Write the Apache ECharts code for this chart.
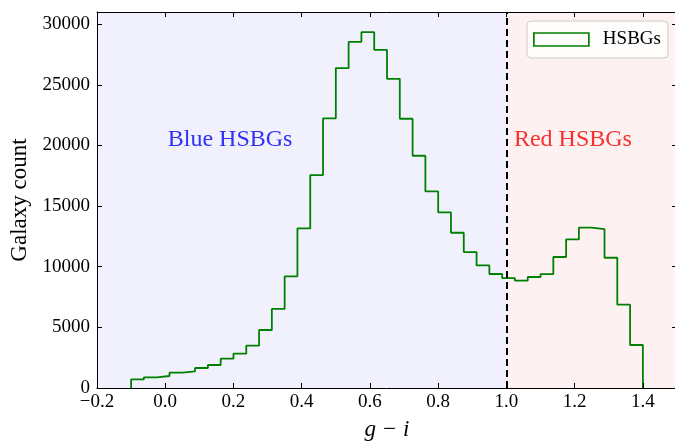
<!DOCTYPE html>
<html>
<head>
<meta charset="utf-8">
<script src="https://cdn.jsdelivr.net/npm/echarts@6/dist/echarts.min.js"></script>
<style>
html,body{margin:0;padding:0;background:#fff;}
#c{width:675px;height:441px;}
</style>
</head>
<body>
<div id="c"></div>
<script>
// Histogram of g-i colour (40 bins from -0.1 to 1.4)
const binStart = -0.1;
const binWidth = 0.0375;
const counts = [717, 882, 989, 1261, 1376, 1648, 1896, 2415, 2827, 3486,
                4780, 6520, 9206, 13160, 17555, 22225, 26375, 28540, 29340, 27880,
                25490, 22200, 19150, 16210, 14480, 12800, 11210, 10110, 9400, 9060,
                8845, 9150, 9395, 10800, 12250, 13215, 13100, 10740, 6870, 3545];
const seriesName = 'HSBGs';
const splitValue = 1.0;
const xRange = [-0.2, 1.5];
const yRange = [0, 31000];
const regionLabels = ['Blue HSBGs', 'Red HSBGs'];
const xTitle = 'g − i';
const yTitle = 'Galaxy count';

// build step outline
const stepData = [];
const edges = [];
for (let k = 0; k <= counts.length; k++) edges.push(+(binStart + k * binWidth).toFixed(6));
stepData.push([edges[0], 0]);
for (let k = 0; k < counts.length; k++) stepData.push([edges[k], counts[k]]);
stepData.push([edges[counts.length], counts[counts.length - 1]]);
stepData.push([edges[counts.length], 0]);

const serif = '"Liberation Serif", "DejaVu Serif", serif';
const fmtX = v => {
  const s = (Math.round(v * 10) / 10).toFixed(1);
  return s.replace('-', '\u2212');
};
const fmtY = v => String(Math.round(v));

const chart = echarts.init(document.getElementById('c'), null, {renderer: 'canvas'});
const common = {
  z: 10,
  axisLine: {show: true, onZero: false, lineStyle: {color: '#000', width: 1}},
  axisTick: {show: true, inside: true, length: 5, lineStyle: {color: '#000', width: 1}},
  splitLine: {show: false}
};
chart.setOption({
  animation: false,
  backgroundColor: '#fff',
  grid: {left: 97, top: 12, width: 580, height: 376, containLabel: false, outerBoundsMode: 'none'},
  xAxis: [
    Object.assign({
      type: 'value', min: xRange[0], max: xRange[1], interval: 0.2,
      name: xTitle, nameLocation: 'middle', nameGap: 30,
      nameTextStyle: {fontFamily: serif, fontSize: 23, fontStyle: 'italic', color: '#000'},
      axisLabel: {show: true, showMaxLabel: false, margin: 5, formatter: fmtX,
                  fontFamily: serif, fontSize: 19, color: '#000'}
    }, common),
    Object.assign({
      type: 'value', position: 'top', min: xRange[0], max: xRange[1], interval: 0.2,
      axisLabel: {show: false}
    }, common)
  ],
  yAxis: [
    Object.assign({
      type: 'value', min: yRange[0], max: yRange[1], interval: 5000,
      name: yTitle, nameLocation: 'middle', nameGap: 62, nameRotate: 90,
      nameTextStyle: {fontFamily: serif, fontSize: 23, color: '#000'},
      axisLabel: {show: true, showMaxLabel: false, margin: 7, formatter: fmtY,
                  fontFamily: serif, fontSize: 19, color: '#000'}
    }, common),
    Object.assign({
      type: 'value', position: 'right', min: yRange[0], max: yRange[1], interval: 5000,
      axisLabel: {show: false}
    }, common)
  ],
  legend: {
    show: true,
    left: 527, top: 21,
    orient: 'vertical',
    padding: [9, 7, 9, 6],
    backgroundColor: 'rgba(255,255,255,0.8)',
    borderColor: '#cccccc', borderWidth: 1, borderRadius: 4,
    itemWidth: 55, itemHeight: 13,
    z: 12,
    data: [{
      name: seriesName, icon: 'rect',
      itemStyle: {color: 'rgba(0,0,0,0)', borderColor: 'green', borderWidth: 1.7}
    }],
    textStyle: {fontFamily: serif, fontSize: 19, color: '#000', padding: [0, 0, 0, 9]}
  },
  series: [{
    name: seriesName,
    type: 'line',
    step: 'end',
    data: stepData,
    symbol: 'none',
    lineStyle: {color: 'green', width: 1.8},
    itemStyle: {color: 'green'},
    z: 5,
    markArea: {
      silent: true,
      label: {show: false},
      data: [
        [{xAxis: xRange[0], itemStyle: {color: '#f1f1fe'}}, {xAxis: splitValue}],
        [{xAxis: splitValue, itemStyle: {color: '#fef1f1'}}, {xAxis: xRange[1]}]
      ]
    },
    markLine: {
      silent: true,
      symbol: ['none', 'none'],
      label: {show: false},
      lineStyle: {color: '#000', width: 2, type: [7, 4]},
      data: [{xAxis: splitValue}],
      z: 6
    }
  }],
  graphic: []
});

// region labels placed in data coordinates through the chart's converter
const p1 = chart.convertToPixel({xAxisIndex: 0, yAxisIndex: 0}, [0.19, 20450]);
const p2 = chart.convertToPixel({xAxisIndex: 0, yAxisIndex: 0}, [1.195, 20450]);
chart.setOption({
  graphic: [
    {type: 'text', x: p1[0], y: p1[1], z: 10,
     style: {text: regionLabels[0], fill: '#3030f8', font: '24px ' + serif, textAlign: 'center', textVerticalAlign: 'middle'}},
    {type: 'text', x: p2[0], y: p2[1], z: 10,
     style: {text: regionLabels[1], fill: '#f83030', font: '24px ' + serif, textAlign: 'center', textVerticalAlign: 'middle'}}
  ]
});
</script>
</body>
</html>
